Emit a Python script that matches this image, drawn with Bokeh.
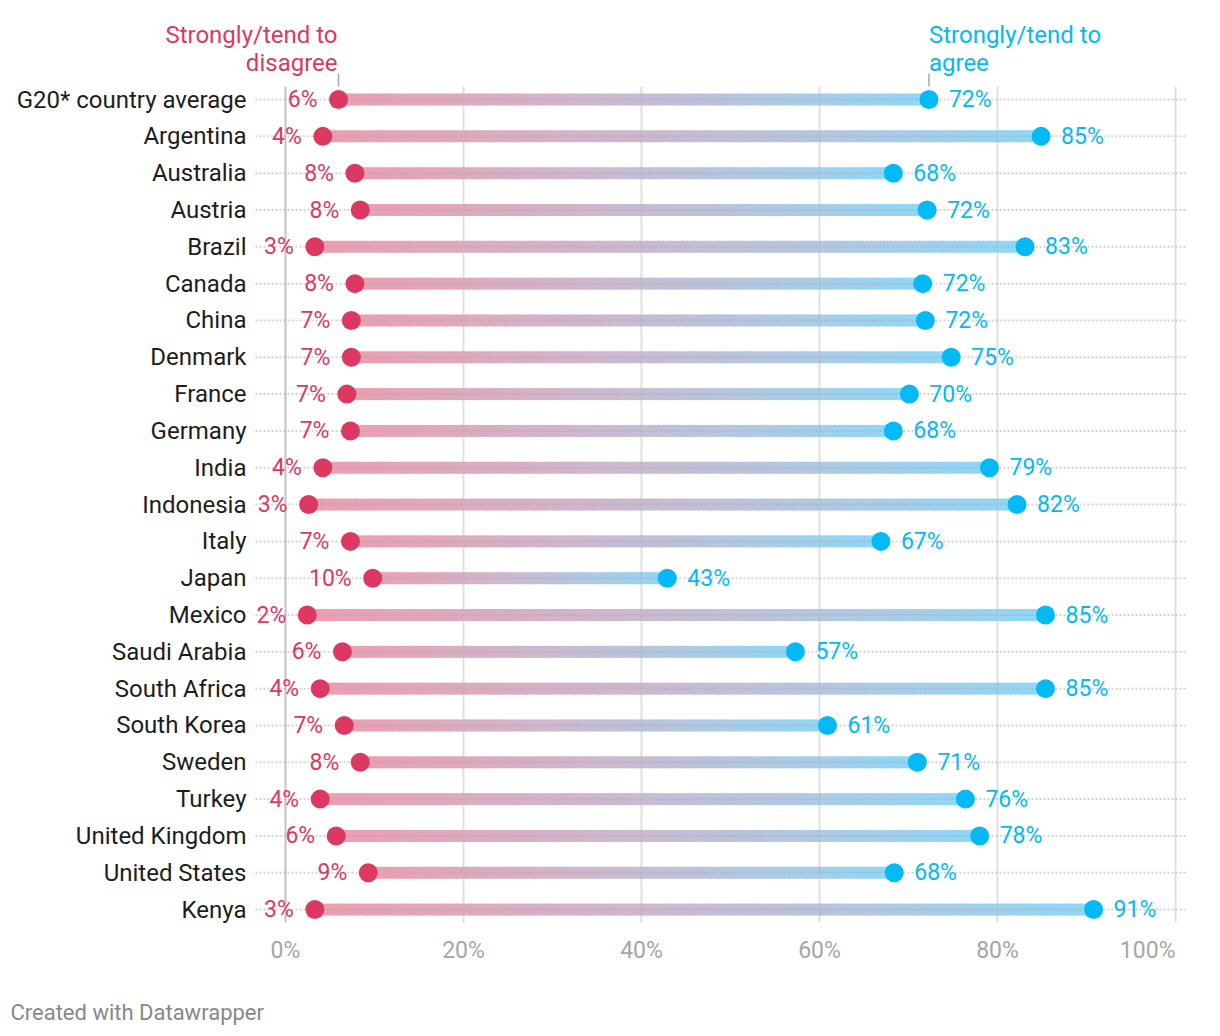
import numpy as np
from bokeh.plotting import figure
from bokeh.models import ColumnDataSource, Range1d
from bokeh.core.properties import value
from bokeh.embed import file_html
from bokeh.resources import INLINE

# ---------------- data ----------------
countries = ["G20* country average", "Argentina", "Australia", "Austria", "Brazil",
             "Canada", "China", "Denmark", "France", "Germany", "India", "Indonesia",
             "Italy", "Japan", "Mexico", "Saudi Arabia", "South Africa", "South Korea",
             "Sweden", "Turkey", "United Kingdom", "United States", "Kenya"]
disagree = [5.96, 4.2, 7.8, 8.4, 3.3, 7.8, 7.4, 7.4, 6.9, 7.3, 4.2, 2.6,
            7.3, 9.8, 2.45, 6.4, 3.9, 6.6, 8.4, 3.9, 5.7, 9.3, 3.3]
agree = [72.3, 84.9, 68.3, 72.1, 83.1, 71.6, 71.9, 74.8, 70.1, 68.3, 79.1, 82.2,
         66.9, 42.9, 85.4, 57.3, 85.4, 60.9, 71.0, 76.4, 78.0, 68.4, 90.8]
x_ticks = [0, 20, 40, 60, 80, 100]
tick_labels = [f"{t}%" for t in x_ticks]
header_disagree = ["Strongly/tend to", "disagree"]
header_agree = ["Strongly/tend to", "agree"]
footer = "Created with Datawrapper"

# ---------------- style ----------------
RED = "#dc3862"
BLUE = "#03b9f6"
BAR_LEFT = "#ec9db0"
BAR_RIGHT = "#8cd7f8"
FONT = "Roboto"

n = len(countries)
ypos = [n - 1 - i for i in range(n)]

# plot area spans the whole canvas; lines/labels are placed in data units
X_START, X_END = -32.02, 104.16
Y_START, Y_END = -3.23, 24.69
LINE_X0, LINE_X1 = -3.37, 101.12

p = figure(frame_width=1212, frame_height=1028,
           x_range=Range1d(X_START, X_END), y_range=Range1d(Y_START, Y_END),
           output_backend="svg", toolbar_location=None, title=None,
           x_axis_location=None, y_axis_location=None,
           min_border_left=0, min_border_right=0, min_border_top=0, min_border_bottom=0)
p.outline_line_color = None
p.background_fill_color = "white"
p.border_fill_color = "white"
p.grid.visible = False
for g in p.grid:
    g.grid_line_color = None


# ---------------- colour helpers (Lab interpolation) ----------------
def hex2rgb(h):
    h = h.lstrip("#")
    return np.array([int(h[i:i + 2], 16) for i in (0, 2, 4)], dtype=float)


M = np.array([[0.4124, 0.3576, 0.1805], [0.2126, 0.7152, 0.0722], [0.0193, 0.1192, 0.9505]])
WP = np.array([0.95047, 1.0, 1.08883])
D = 6 / 29


def rgb2lab(rgb):
    c = rgb / 255.0
    lin = np.where(c <= 0.04045, c / 12.92, ((c + 0.055) / 1.055) ** 2.4)
    t = (M @ lin) / WP
    f = np.where(t > D ** 3, np.cbrt(t), t / (3 * D * D) + 4 / 29)
    return np.array([116 * f[1] - 16, 500 * (f[0] - f[1]), 200 * (f[1] - f[2])])


def lab2rgb(lab):
    fy = (lab[0] + 16) / 116
    f = np.array([fy + lab[1] / 500, fy, fy - lab[2] / 200])
    t = np.where(f > D, f ** 3, 3 * D * D * (f - 4 / 29)) * WP
    lin = np.linalg.solve(M, t)
    lin = np.clip(lin, 0, 1)
    c = np.where(lin <= 0.0031308, 12.92 * lin, 1.055 * lin ** (1 / 2.4) - 0.055)
    return np.clip(c * 255, 0, 255)


lab_l, lab_r = rgb2lab(hex2rgb(BAR_LEFT)), rgb2lab(hex2rgb(BAR_RIGHT))

# ---------------- gradient bars ----------------
N = 60
sx0, sx1, sy, sc = [], [], [], []
for y, r, b in zip(ypos, disagree, agree):
    edges = np.linspace(r, b, N + 1)
    for k in range(N):
        t = (k + 0.5) / N
        c = lab2rgb(lab_l * (1 - t) + lab_r * t)
        sx0.append(edges[k])
        sx1.append(min(edges[k + 1] + 0.15, b))
        sy.append(y)
        sc.append("#%02x%02x%02x" % tuple(int(round(v)) for v in c))
bars = ColumnDataSource(dict(x0=sx0, x1=sx1, y=sy, c=sc))
p.segment(x0="x0", y0="y", x1="x1", y1="y", line_color="c", line_width=12,
          line_cap="butt", source=bars)

# ---------------- grid lines (drawn over bars, semi-transparent) ----------------
g_top, g_bot = ypos[0] + 0.35, ypos[-1] - 0.35
p.segment(x0=x_ticks[1:], y0=[g_bot] * 5, x1=x_ticks[1:], y1=[g_top] * 5,
          line_color="#bbbbbb", line_alpha=0.45, line_width=2)
p.segment(x0=[x_ticks[0]], y0=[g_bot], x1=[x_ticks[0]], y1=[g_top],
          line_color="#999999", line_alpha=0.6, line_width=2)
p.segment(x0=[LINE_X0] * n, y0=ypos, x1=[LINE_X1] * n, y1=ypos,
          line_color="#aaaaaa", line_alpha=0.5, line_width=2, line_dash="2 2")

# header tick marks
p.segment(x0=[disagree[0], agree[0]], y0=[ypos[0] + 0.355] * 2,
          x1=[disagree[0], agree[0]], y1=[ypos[0] + 0.71] * 2,
          line_color="#aaaaaa", line_width=1.5)

# ---------------- dots ----------------
p.scatter(x=disagree, y=ypos, size=19, fill_color=RED, line_color=None)
p.scatter(x=agree, y=ypos, size=19, fill_color=BLUE, line_color=None)

# ---------------- category labels ----------------
p.text(x=[LINE_X0] * n, y=ypos, text=countries, x_offset=-9,
       text_align="right", text_baseline="middle",
       text_font=value(FONT), text_font_size="24px", text_color="#1d1d1d")

# ---------------- value labels ----------------
p.text(x=disagree, y=ypos, text=[f"{round(v)}%" for v in disagree],
       x_offset=-21, text_align="right", text_baseline="middle",
       text_font=value(FONT), text_font_size="23px", text_color=RED)
p.text(x=agree, y=ypos, text=[f"{round(v)}%" for v in agree],
       x_offset=20, text_align="left", text_baseline="middle",
       text_font=value(FONT), text_font_size="23px", text_color=BLUE)

# ---------------- x tick labels ----------------
tick_y = ypos[-1] - 1.114
p.text(x=x_ticks[:-1], y=[tick_y] * (len(x_ticks) - 1), text=tick_labels[:-1],
       text_align="center", text_baseline="middle",
       text_font=value(FONT), text_font_size="23px", text_color="#a6a6a6")
p.text(x=x_ticks[-1:], y=[tick_y], text=tick_labels[-1:],
       text_align="right", text_baseline="middle",
       text_font=value(FONT), text_font_size="23px", text_color="#a6a6a6")

# ---------------- headers ----------------
hy = [ypos[0] + 1.765, ypos[0] + 1.005]
p.text(x=[disagree[0]] * 2, y=hy, text=header_disagree, x_offset=-1,
       text_align="right", text_baseline="middle",
       text_font=value(FONT), text_font_size="24px", text_color=RED)
p.text(x=[agree[0]] * 2, y=hy, text=header_agree,
       text_align="left", text_baseline="middle",
       text_font=value(FONT), text_font_size="24px", text_color=BLUE)

# ---------------- footer ----------------
p.text(x=[X_START + 1.12], y=[ypos[-1] - 2.797], text=[footer],
       text_align="left", text_baseline="middle",
       text_font=value(FONT), text_font_size="22px", text_color="#888888")

open("out.html", "w").write(file_html(p, INLINE))
